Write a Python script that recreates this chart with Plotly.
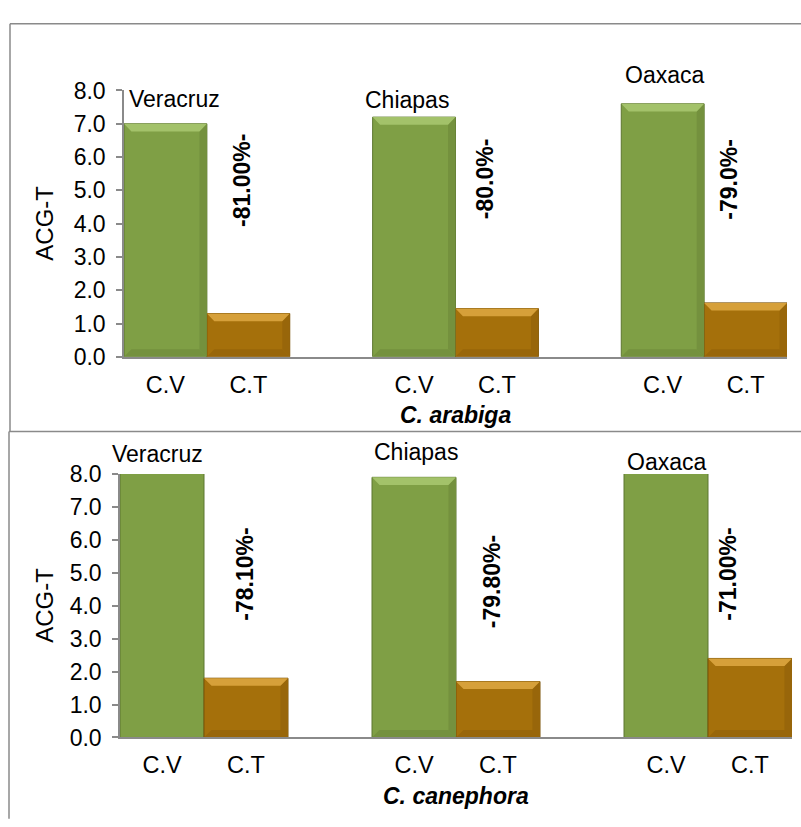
import plotly.graph_objects as go

# Data -----------------------------------------------------------------------
regions = ["Veracruz", "Chiapas", "Oaxaca"]
tick_labels = ["C.V", "C.T"]

arabiga_cv = [7.0, 7.2, 7.6]
arabiga_ct = [1.3, 1.45, 1.62]
arabiga_pct = ["-81.00%-", "-80.0%-", "-79.0%-"]

canephora_cv = [8.2, 7.9, 8.3]
canephora_ct = [1.8, 1.7, 2.4]
canephora_pct = ["-78.10%-", "-79.80%-", "-71.00%-"]

y_ticks = [0, 1, 2, 3, 4, 5, 6, 7, 8]

# Styling / placement ----------------------------------------------------------
FONT = "Arial, Liberation Sans, sans-serif"
GREEN, GREEN_HI, GREEN_LO, GREEN_EDGE = "#7f9f45", "#a3c26a", "#74913e", "#5d7630"
BROWN, BROWN_HI, BROWN_LO, BROWN_EDGE = "#a5700b", "#d6a03a", "#98660a", "#7a5206"
AXIS_GRAY = "#8a8a8a"
YMAX = 8

W, H = 801, 827


def px_x(p):
    return p / W


def px_y(p):
    return 1 - p / H


panels = [
    dict(cv=arabiga_cv, ct=arabiga_ct, pct=arabiga_pct, title="C. arabiga",
         xdom=[px_x(124), px_x(787)], ydom=[px_y(355), px_y(80)],
         name_dx=[0.11, -0.08, 0.02], name_y=[7.73, 7.7, 8.46],
         pct_dx=[-0.07, -0.15, -0.2], pct_y=[5.3, 5.35, 5.35],
         title_y=px_y(415), frame=(10, 11, 432)),
    dict(cv=canephora_cv, ct=canephora_ct, pct=canephora_pct, title="C. canephora",
         xdom=[px_x(120), px_x(792)], ydom=[px_y(748), px_y(476)],
         name_dx=[-0.05, 0.02, 0.01], name_y=[8.62, 8.68, 8.38],
         pct_dx=[-0.01, -0.07, -0.26], pct_y=[4.95, 4.72, 4.95],
         title_y=px_y(808), frame=(9, 432, H + 5)),
]

fig = go.Figure()
annotations = []
shapes = []


def bevel_paths(xs, vals, dx=0.09, dy=0.23):
    """Build highlight/shadow polygons for bevelled bar faces."""
    top, bot, side = ([], []), ([], []), ([], [])
    for x, v in zip(xs, vals):
        if v > YMAX:
            continue
        l, r = x - 0.5, x + 0.5
        top[0].extend([l, r, r - dx, l + dx, l, None])
        top[1].extend([v, v, v - dy, v - dy, v, None])
        bot[0].extend([l, r, r - dx, l + dx, l, None])
        bot[1].extend([0, 0, dy, dy, 0, None])
        side[0].extend([r, r, r - dx, r - dx, r, None])
        side[1].extend([0, v, v - dy, dy, 0, None])
    return top, bot, side


for i, p in enumerate(panels):
    n = "" if i == 0 else str(i + 1)
    xa, ya = "x" + n, "y" + n
    pos_cv = [3 * k for k in range(len(regions))]
    pos_ct = [3 * k + 1 for k in range(len(regions))]
    x_lo, x_hi = -0.5, 3 * len(regions) - 1.5

    def to_paper_x(v):
        return p["xdom"][0] + (v - x_lo) / (x_hi - x_lo) * (p["xdom"][1] - p["xdom"][0])

    def to_paper_y(v):
        return p["ydom"][0] + v / YMAX * (p["ydom"][1] - p["ydom"][0])

    fig.add_trace(go.Bar(x=pos_cv, y=p["cv"], width=1, xaxis=xa, yaxis=ya,
                         marker=dict(color=GREEN, line=dict(color=GREEN_EDGE, width=1)),
                         showlegend=False, hoverinfo="y"))
    fig.add_trace(go.Bar(x=pos_ct, y=p["ct"], width=1, xaxis=xa, yaxis=ya,
                         marker=dict(color=BROWN, line=dict(color=BROWN_EDGE, width=1)),
                         showlegend=False, hoverinfo="y"))

    for xs, vals, hi, lo in ((pos_cv, p["cv"], GREEN_HI, GREEN_LO),
                             (pos_ct, p["ct"], BROWN_HI, BROWN_LO)):
        top, bot, side = bevel_paths(xs, vals)
        for (px, py), col in ((side, lo), (bot, lo), (top, hi)):
            if px:
                fig.add_trace(go.Scatter(x=px, y=py, xaxis=xa, yaxis=ya, mode="lines",
                                         fill="toself", fillcolor=col,
                                         line=dict(width=0, color=col),
                                         showlegend=False, hoverinfo="skip"))

    tickvals = [v for pair in zip(pos_cv, pos_ct) for v in pair]
    ticktext = tick_labels * len(regions)

    fig.update_layout(**{
        "xaxis" + n: dict(domain=p["xdom"], anchor=ya, range=[x_lo, x_hi],
                          tickvals=tickvals, ticktext=ticktext, showgrid=False,
                          zeroline=False, showline=True, linecolor=AXIS_GRAY, linewidth=1.5,
                          ticks="", ticklabelstandoff=6,
                          tickfont=dict(family=FONT, size=23.5, color="#000")),
        "yaxis" + n: dict(domain=p["ydom"], anchor=xa, range=[0, YMAX],
                          tickvals=y_ticks, tickformat=".1f", showgrid=False,
                          zeroline=False, showline=True, linecolor=AXIS_GRAY, linewidth=1.5,
                          ticks="outside", ticklen=6, tickcolor=AXIS_GRAY, tickwidth=1.5,
                          ticklabelstandoff=6,
                          tickfont=dict(family=FONT, size=23, color="#000")),
    })

    for k, reg in enumerate(regions):
        # region name above the C.V bar
        annotations.append(dict(x=to_paper_x(pos_cv[k] + p["name_dx"][k]),
                                y=to_paper_y(p["name_y"][k]),
                                xref="paper", yref="paper", text=reg, showarrow=False,
                                xanchor="center", yanchor="middle",
                                font=dict(family=FONT, size=23, color="#000")))
        # percentage change label beside the C.T bar
        annotations.append(dict(x=to_paper_x(pos_ct[k] + p["pct_dx"][k]),
                                y=to_paper_y(p["pct_y"][k]),
                                xref="paper", yref="paper", text="<b>" + p["pct"][k] + "</b>",
                                showarrow=False, textangle=-90,
                                xanchor="center", yanchor="middle",
                                font=dict(family=FONT, size=23, color="#000")))

    # y-axis title
    annotations.append(dict(x=px_x(45), y=(p["ydom"][0] + p["ydom"][1]) / 2,
                            xref="paper", yref="paper", text="ACG-T", textangle=-90,
                            showarrow=False, xanchor="center", yanchor="middle",
                            font=dict(family=FONT, size=24, color="#000")))
    # species title
    annotations.append(dict(x=(p["xdom"][0] + p["xdom"][1]) / 2, y=p["title_y"],
                            xref="paper", yref="paper",
                            text="<b><i>" + p["title"] + "</i></b>", showarrow=False,
                            xanchor="center", yanchor="middle",
                            font=dict(family=FONT, size=23, color="#000")))

    # panel frame: top and left edges
    fx, fy0, fy1 = p["frame"]
    line = dict(color=AXIS_GRAY, width=1.5)
    shapes.append(dict(type="line", xref="paper", yref="paper",
                       x0=px_x(fx), x1=px_x(W + 5), y0=px_y(fy0), y1=px_y(fy0), line=line))
    shapes.append(dict(type="line", xref="paper", yref="paper",
                       x0=px_x(fx), x1=px_x(fx), y0=px_y(fy0), y1=px_y(fy1), line=line))

fig.update_layout(
    width=W, height=H, margin=dict(l=0, r=0, t=0, b=0),
    paper_bgcolor="white", plot_bgcolor="white",
    barmode="overlay", annotations=annotations, shapes=shapes,
)

fig.write_html("out.html")
